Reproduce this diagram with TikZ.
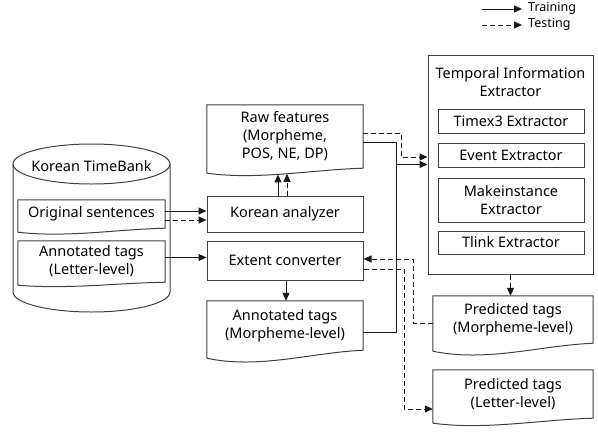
\documentclass[tikz,border=0pt]{standalone}
\usepackage{fontspec}
\setmainfont{Noto Sans}
\usetikzlibrary{arrows.meta,calc}
\newcommand\mfs{\fontsize{14.5}{18}\selectfont}
\newcommand\lfs{\fontsize{12.5}{15}\selectfont}
\tikzset{
  ln/.style={line width=1pt, draw=black!75},
  blk/.style={ln, rectangle, inner sep=0pt, align=center, font=\mfs},
  docn/.style={rectangle, inner sep=0pt, align=center, font=\mfs},
  sln/.style={line width=1pt, draw=black!90},
  tln/.style={sln, dash pattern=on 5pt off 3pt},
  arr/.style={sln, -{Triangle[length=8pt,width=7pt]}},
  tarr/.style={tln, -{Triangle[length=8pt,width=7pt]}},
}
% document outline: #1 node, #2 drop of the left end below the node's south
\newcommand\docwave[2]{%
  \draw[ln] ([yshift=-#2pt]#1.south west) -- (#1.north west) -- (#1.north east) -- (#1.south east)
    .. controls ($(#1.south east)!0.3333!(#1.south west)+(0,0.3*#2)$) and ($(#1.south east)!0.6667!(#1.south west)+(0,2.4*#2)$) .. ([yshift=-#2pt]#1.south west);}
\begin{document}
\begin{tikzpicture}[x=1pt,y=-1pt]
\useasboundingbox (0,0) rectangle (598,432);
% legend
\coordinate (lgs1) at (482,9);
\coordinate (lge1) at (522,9);
\coordinate (lgs2) at (482,25);
\coordinate (lge2) at (522,25);
\node[anchor=west, font=\lfs, inner sep=0pt] (lgt) at (528,8) {Training};
\node[anchor=west, font=\lfs, inner sep=0pt] (lgd) at (528,24) {Testing};
\draw[arr] (lgs1) -- (lge1);
\draw[tarr] (lgs2) -- (lge2);
% cylinder
\draw[ln] (91.5,164) ellipse [x radius=78.5pt, y radius=20pt];
\draw[ln] (13,164) -- (13,292) arc [start angle=180, end angle=360, x radius=78.5pt, y radius=20pt] -- (170,164);
\node[font=\mfs] (ktb) at (91.5,166) {Korean TimeBank};
% nodes
\node[docn, minimum width=147pt, minimum height=28pt] (os) at (91.5,214) {Original sentences};
\docwave{os}{4}
\node[docn, minimum width=147pt, minimum height=41pt] (al) at (91.5,261.5) {Annotated tags\\(Letter-level)};
\docwave{al}{3}
\node[docn, minimum width=156pt, minimum height=63pt] (rf) at (285,136.5) {Raw features\\(Morpheme,\\POS, NE, DP)};
\docwave{rf}{5}
\node[blk, draw, minimum width=156pt, minimum height=36pt] (ka) at (285,214) {Korean analyzer};
\node[blk, draw, minimum width=156pt, minimum height=39pt] (ec) at (285,260.5) {Extent converter};
\node[docn, minimum width=156pt, minimum height=49pt] (am) at (285,325.5) {Annotated tags\\(Morpheme-level)};
\docwave{am}{8}
\node[blk, draw, minimum width=165pt, minimum height=219pt] (tie) at (510.5,164.5) {};
\node[font=\mfs, align=center, inner sep=0pt] (tiet) at (510.5,82.5) {Temporal Information\\Extractor};
\node[blk, draw, minimum width=146pt, minimum height=24pt] (tx) at (511,121) {Timex3 Extractor};
\node[blk, draw, minimum width=146pt, minimum height=24pt] (ev) at (511,155) {Event Extractor};
\node[blk, draw, minimum width=146pt, minimum height=44pt] (mk) at (511,200) {Makeinstance\\Extractor};
\node[blk, draw, minimum width=146pt, minimum height=23pt] (tl) at (511,242.5) {Tlink Extractor};
\node[docn, minimum width=160pt, minimum height=47pt] (pm) at (513,319.5) {Predicted tags\\(Morpheme-level)};
\docwave{pm}{8}
\node[docn, minimum width=160pt, minimum height=48pt] (pl) at (513,394) {Predicted tags\\(Letter-level)};
\docwave{pl}{5}
% connectors
\coordinate (o1) at ([yshift=3pt]os.east);
\coordinate (o2) at ([yshift=-6pt]os.east);
\draw[arr] (o1) -- (o1 -| ka.west);
\draw[tarr] (o2) -- (o2 -| ka.west);
\coordinate (a1) at ([yshift=4pt]al.east);
\draw[arr] (a1) -- (a1 -| ec.west);
\draw[arr] ([xshift=-7pt]ka.north) -- ([xshift=-7pt,yshift=-6.2pt]rf.south);
\draw[tarr] ([xshift=2pt]ka.north) -- ([xshift=2pt,yshift=-5.6pt]rf.south);
\draw[arr] ([xshift=1pt]ec.south) -- ([xshift=1pt]am.north);
\coordinate (r1) at ([yshift=-5.5pt]rf.east);
\coordinate (r2) at ([yshift=3.5pt]rf.east);
\coordinate (m1) at ([yshift=-6.5pt]am.east);
\coordinate (js) at (396,0);
\coordinate (jd) at (401,0);
\coordinate (ti1) at (tie.west);
\coordinate (ti2) at ([yshift=7.5pt]tie.west);
\draw[arr] (r1) -- (r1 -| js) -- (ti1 -| js) -- (ti1);
\draw[sln] (m1) -- (m1 -| js) -- (ti1 -| js);
\draw[tarr] (r2) -- (r2 -| jd) -- (ti2 -| jd) -- (ti2);
\draw[tarr] (tie.south) -- (tie.south |- pm.north);
\coordinate (p1) at ([yshift=-3.5pt]pm.west);
\coordinate (j1) at (413,0);
\coordinate (e1) at ([yshift=1.5pt]ec.east);
\draw[tarr] (p1) -- (p1 -| j1) -- (e1 -| j1) -- (e1);
\coordinate (e2) at ([yshift=-8.5pt]ec.east);
\coordinate (j2) at (404,0);
\coordinate (q2) at ([yshift=-15pt]pl.west);
\draw[tarr] (e2) -- (e2 -| j2) -- (q2 -| j2) -- (q2);
\end{tikzpicture}
\end{document}
